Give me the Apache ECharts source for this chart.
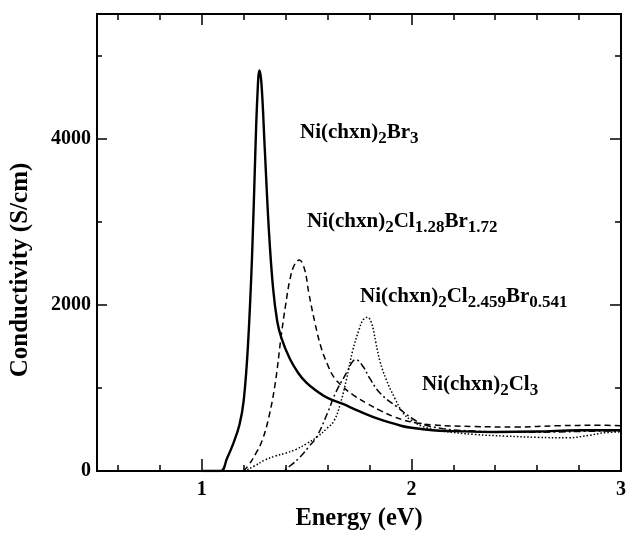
<!DOCTYPE html>
<html>
<head>
<meta charset="utf-8">
<script src="https://cdn.jsdelivr.net/npm/echarts@6/dist/echarts.min.js"></script>
<style>html,body{margin:0;padding:0;background:#fff}#c{width:626px;height:533px}</style>
</head>
<body>
<div id="c"></div>
<script>
// Ni(chxn)2Br3 (solid)
const br3X = [1.0, 1.09, 1.12, 1.15, 1.18, 1.20, 1.22, 1.24, 1.255, 1.265, 1.275, 1.285, 1.30, 1.32, 1.34, 1.36, 1.38, 1.42, 1.46, 1.50, 1.55, 1.60, 1.67, 1.75, 1.85, 1.95, 2.0, 2.1, 2.2, 2.4, 2.6, 2.8, 3.0];
const br3Y = [0, 0, 150, 330, 560, 850, 1500, 2600, 3800, 4500, 4820, 4650, 3900, 2900, 2200, 1800, 1600, 1350, 1180, 1060, 960, 880, 810, 720, 620, 545, 520, 490, 480, 470, 475, 490, 490];
// Ni(chxn)2Cl1.28Br1.72 (dashed)
const clbrX = [1.15, 1.19, 1.22, 1.26, 1.29, 1.32, 1.35, 1.38, 1.40, 1.42, 1.44, 1.465, 1.49, 1.51, 1.54, 1.57, 1.60, 1.63, 1.67, 1.72, 1.79, 1.85, 1.92, 2.0, 2.1, 2.3, 2.5, 2.7, 2.9, 3.0];
const clbrY = [0, 0, 60, 220, 380, 650, 1050, 1650, 2000, 2300, 2470, 2540, 2430, 2150, 1780, 1480, 1280, 1130, 1020, 920, 810, 730, 650, 590, 555, 535, 530, 545, 550, 545];
// Ni(chxn)2Cl2.459Br0.541 (dotted)
const cl2459X = [1.15, 1.2, 1.25, 1.30, 1.35, 1.40, 1.45, 1.50, 1.55, 1.60, 1.63, 1.66, 1.69, 1.72, 1.75, 1.77, 1.79, 1.81, 1.83, 1.85, 1.88, 1.92, 1.96, 2.0, 2.06, 2.15, 2.3, 2.45, 2.6, 2.75, 2.85, 2.92, 3.0];
const cl2459Y = [0, 5, 60, 130, 180, 215, 260, 330, 410, 520, 600, 800, 1100, 1450, 1700, 1820, 1850, 1780, 1550, 1320, 1100, 880, 700, 610, 530, 480, 440, 420, 405, 400, 430, 460, 470];
// Ni(chxn)2Cl3 (dash-dot)
const cl3X = [1.35, 1.38, 1.42, 1.47, 1.51, 1.55, 1.60, 1.64, 1.69, 1.72, 1.735, 1.77, 1.80, 1.85, 1.93, 2.04, 2.15, 2.3, 2.5, 2.7, 2.9, 3.0];
const cl3Y = [0, 0, 60, 172, 290, 420, 700, 950, 1180, 1320, 1340, 1255, 1120, 940, 774, 580, 510, 480, 465, 470, 480, 480];

const xMajor = [1, 2, 3];
const xMinor = [0.6, 0.8, 1.2, 1.4, 1.6, 1.8, 2.2, 2.4, 2.6, 2.8];
const yMajor = [0, 2000, 4000];
const yMinor = [1000, 3000, 5000];

const FONT = '"Liberation Serif", "Times New Roman", serif';
const zip = (xs, ys) => xs.map((x, i) => [x, ys[i]]);

const chart = echarts.init(document.getElementById('c'), null, {renderer: 'canvas'});
const grid = {left: 97, right: 5, top: 14, bottom: 62, containLabel: false, outerBoundsMode: 'none'};
const baseX = {type: 'value', min: 0.5, max: 3, splitLine: {show: false}, axisLine: {show: true, onZero: false, lineStyle: {color: '#000', width: 2}}};
const baseY = {type: 'value', min: 0, max: 5500, splitLine: {show: false}, axisLine: {show: true, onZero: false, lineStyle: {color: '#000', width: 2}}};
const tick = (vals, len) => ({show: true, inside: true, length: len, customValues: vals, lineStyle: {color: '#000', width: 1.5}});
const noLabel = {show: false};

function rich(parts) {
  return parts.map(p => (p[1] ? '{s|' : '{a|') + p[0] + '}').join('');
}
const richStyle = {
  a: {fontFamily: FONT, fontWeight: 'bold', fontSize: 21, lineHeight: 28, color: '#000'},
  s: {fontFamily: FONT, fontWeight: 'bold', fontSize: 17, lineHeight: 15, verticalAlign: 'bottom', color: '#000'}
};
function label(x, y, parts) {
  return {type: 'text', x: x, y: y, style: {text: rich(parts), rich: richStyle, align: 'left', verticalAlign: 'middle'}};
}

chart.setOption({
  animation: false,
  backgroundColor: '#fff',
  grid: grid,
  xAxis: [
    Object.assign({}, baseX, {position: 'bottom', axisTick: tick(xMajor, 12),
      axisLabel: {show: true, customValues: xMajor, margin: 9, color: '#000', fontFamily: FONT, fontWeight: 'bold', fontSize: 20},
      name: 'Energy (eV)', nameLocation: 'middle', nameGap: 35,
      nameTextStyle: {color: '#000', fontFamily: FONT, fontWeight: 'bold', fontSize: 24.5}}),
    Object.assign({}, baseX, {position: 'bottom', axisTick: tick(xMinor, 6), axisLabel: noLabel}),
    Object.assign({}, baseX, {position: 'top', axisTick: tick(xMajor, 11), axisLabel: noLabel}),
    Object.assign({}, baseX, {position: 'top', axisTick: tick(xMinor, 6), axisLabel: noLabel})
  ],
  yAxis: [
    Object.assign({}, baseY, {position: 'left', axisTick: tick(yMajor, 10),
      axisLabel: {show: true, customValues: yMajor, margin: 6, color: '#000', fontFamily: FONT, fontWeight: 'bold', fontSize: 20,
        formatter: v => String(v)}}),
    Object.assign({}, baseY, {position: 'left', axisTick: tick(yMinor, 5), axisLabel: noLabel}),
    Object.assign({}, baseY, {position: 'right', axisTick: tick(yMajor, 11), axisLabel: noLabel}),
    Object.assign({}, baseY, {position: 'right', axisTick: tick(yMinor, 6), axisLabel: noLabel})
  ],
  series: [
    {name: 'Ni(chxn)2Br3', type: 'line', data: zip(br3X, br3Y), showSymbol: false, smooth: 0.4,
      lineStyle: {color: '#000', width: 2.4, type: 'solid'}},
    {name: 'Ni(chxn)2Cl1.28Br1.72', type: 'line', data: zip(clbrX, clbrY), showSymbol: false, smooth: 0.4,
      lineStyle: {color: '#000', width: 1.5, type: [6, 4]}},
    {name: 'Ni(chxn)2Cl2.459Br0.541', type: 'line', data: zip(cl2459X, cl2459Y), showSymbol: false, smooth: 0.4,
      lineStyle: {color: '#000', width: 1.5, type: [1.5, 2]}},
    {name: 'Ni(chxn)2Cl3', type: 'line', data: zip(cl3X, cl3Y), showSymbol: false, smooth: 0.4,
      lineStyle: {color: '#000', width: 1.5, type: [7, 3, 2, 3]}}
  ],
  graphic: [
    {type: 'text', x: 21, y: 270, rotation: Math.PI / 2,
      style: {text: 'Conductivity (S/cm)', font: 'bold 25px ' + FONT, align: 'center', verticalAlign: 'middle', fill: '#000'}},
    label(300, 133, [['Ni(chxn)'], ['2', 1], ['Br'], ['3', 1]]),
    label(307, 222, [['Ni(chxn)'], ['2', 1], ['Cl'], ['1.28', 1], ['Br'], ['1.72', 1]]),
    label(360, 297, [['Ni(chxn)'], ['2', 1], ['Cl'], ['2.459', 1], ['Br'], ['0.541', 1]]),
    label(422, 385, [['Ni(chxn)'], ['2', 1], ['Cl'], ['3', 1]])
  ]
});
</script>
</body>
</html>
